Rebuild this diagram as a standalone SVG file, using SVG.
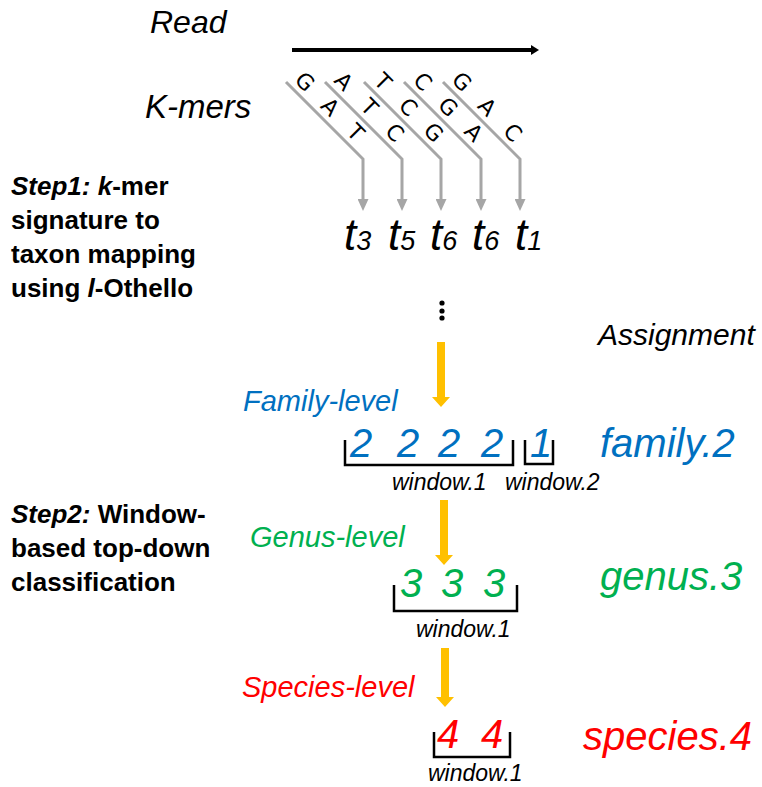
<svg xmlns="http://www.w3.org/2000/svg" width="762" height="787" viewBox="0 0 762 787">
  <defs>
    <style>
      text { font-family: "Liberation Sans", Arial, sans-serif; }
      .it { font-style: italic; }
      .step { font-size: 26px; font-weight: bold; fill: #000; }
      .base { font-family: "DejaVu Sans", "Liberation Sans", sans-serif; font-size: 22px; fill: #000; text-anchor: middle; }
      .kline { fill: none; stroke: #A6A6A6; stroke-width: 3; }
      .tax { font-style: italic; font-size: 44px; fill: #000; }
      .sub { font-size: 27px; }
      .lvl { font-style: italic; font-size: 29px; }
      .num { font-style: italic; font-size: 40px; }
      .res { font-style: italic; font-size: 40px; }
      .win { font-style: italic; font-size: 23px; fill: #000; }
      .brk { fill: none; stroke: #000; stroke-width: 2.5; }
      .flow { fill: #FFC000; }
      .blue { fill: #0070C0; }
      .green { fill: #00B050; }
      .red { fill: #FF0000; }
    </style>
    <marker id="grayHead" markerWidth="12" markerHeight="11" refX="1" refY="5.5" orient="auto" markerUnits="userSpaceOnUse" viewBox="0 0 12 11">
      <path d="M0,0 L12,5.5 L0,11 Z" fill="#A6A6A6"/>
    </marker>
  </defs>

  <!-- Labels on the left -->
  <g id="label-read">
    <text x="150" y="33" class="it" font-size="32">Read</text>
  </g>
  <g id="label-kmers">
    <text x="145" y="118" class="it" font-size="33">K-mers</text>
  </g>
  <g id="step1">
    <text class="step" x="11" y="195"><tspan font-style="italic">Step1:</tspan> <tspan font-style="italic">k</tspan>-mer</text>
    <text class="step" x="11" y="229">signature to</text>
    <text class="step" x="11" y="263">taxon mapping</text>
    <text class="step" x="11" y="297">using <tspan font-style="italic">l</tspan>-Othello</text>
  </g>
  <g id="step2">
    <text class="step" x="11" y="523"><tspan font-style="italic">Step2:</tspan> Window-</text>
    <text class="step" x="11" y="557">based top-down</text>
    <text class="step" x="11" y="591">classification</text>
  </g>

  <!-- Read -->
  <g id="read">
    <line x1="292" y1="50" x2="532" y2="50" stroke="#000" stroke-width="4"/>
    <path d="M531,45 L539,50 L531,55 Z" fill="#000"/>
  </g>

  <!-- k-mers: one line per k-mer, bases written along it -->
  <g id="kmer-1">
    <g transform="translate(286,82) rotate(45)">
      <text class="base" x="13" y="-6">G</text>
      <text class="base" x="49" y="-6">A</text>
      <text class="base" x="85" y="-6">T</text>
    </g>
  </g>
  <g id="kmer-2">
    <g transform="translate(325,82) rotate(45)">
      <text class="base" x="13" y="-6">A</text>
      <text class="base" x="49" y="-6">T</text>
      <text class="base" x="85" y="-6">C</text>
    </g>
  </g>
  <g id="kmer-3">
    <g transform="translate(364,82) rotate(45)">
      <text class="base" x="13" y="-6">T</text>
      <text class="base" x="49" y="-6">C</text>
      <text class="base" x="85" y="-6">G</text>
    </g>
  </g>
  <g id="kmer-4">
    <g transform="translate(404,82) rotate(45)">
      <text class="base" x="13" y="-6">C</text>
      <text class="base" x="49" y="-6">G</text>
      <text class="base" x="85" y="-6">A</text>
    </g>
  </g>
  <g id="kmer-5">
    <g transform="translate(443,82) rotate(45)">
      <text class="base" x="13" y="-6">G</text>
      <text class="base" x="49" y="-6">A</text>
      <text class="base" x="85" y="-6">C</text>
    </g>
  </g>

  <!-- Taxon ids -->
  <g id="taxa">
    <text class="tax" x="344" y="250">t<tspan class="sub">3</tspan></text>
    <text class="tax" x="388" y="250">t<tspan class="sub">5</tspan></text>
    <text class="tax" x="430" y="250">t<tspan class="sub">6</tspan></text>
    <text class="tax" x="472" y="250">t<tspan class="sub">6</tspan></text>
    <text class="tax" x="515" y="250">t<tspan class="sub">1</tspan></text>
  </g>

  <g id="ellipsis">
    <circle cx="442" cy="303" r="2.6" fill="#000"/>
    <circle cx="442" cy="311" r="2.6" fill="#000"/>
    <circle cx="442" cy="318" r="2.6" fill="#000"/>
  </g>

  <g id="label-assignment">
    <text x="598" y="345" class="it" font-size="30">Assignment</text>
  </g>

  <!-- Family level -->
  <g id="family-level">
    <text class="lvl blue" x="243" y="411">Family-level</text>
    <text class="num blue" x="350" y="457">2</text>
    <text class="num blue" x="397" y="457">2</text>
    <text class="num blue" x="438" y="457">2</text>
    <text class="num blue" x="481" y="457">2</text>
    <text class="num blue" x="530" y="457">1</text>
    <path class="brk" d="M345,440 V465 H513 V440"/>
    <path class="brk" d="M525,440 V464 H553 V440"/>
    <text class="win" x="392" y="490">window.1</text>
    <text class="win" x="505" y="490">window.2</text>
    <text class="res blue" x="600" y="457">family.2</text>
  </g>

  <!-- Genus level -->
  <g id="genus-level">
    <text class="lvl green" x="250" y="547">Genus-level</text>
    <text class="num green" x="400" y="597">3</text>
    <text class="num green" x="441" y="597">3</text>
    <text class="num green" x="483" y="597">3</text>
    <path class="brk" d="M394,585 V611 H517 V585"/>
    <text class="win" x="416" y="637">window.1</text>
    <text class="res green" x="600" y="590">genus.3</text>
  </g>

  <!-- Species level -->
  <g id="species-level">
    <text class="lvl red" x="242" y="697">Species-level</text>
    <text class="num red" x="437" y="748">4</text>
    <text class="num red" x="481" y="748">4</text>
    <path class="brk" d="M434,732 V757 H510 V732"/>
    <text class="win" x="428" y="781">window.1</text>
    <text class="res red" x="583" y="750">species.4</text>
  </g>

  <!-- Connectors -->
  <g id="connectors">
    <path class="kline" d="M286,82 L363,159 V200" marker-end="url(#grayHead)"/>
    <path class="kline" d="M325,82 L402,159 V200" marker-end="url(#grayHead)"/>
    <path class="kline" d="M364,82 L441,159 V200" marker-end="url(#grayHead)"/>
    <path class="kline" d="M404,82 L481,159 V200" marker-end="url(#grayHead)"/>
    <path class="kline" d="M443,82 L520,159 V200" marker-end="url(#grayHead)"/>
    <polygon class="flow" points="437,342 445,342 445,397 450,397 441,407 432,397 437,397"/>
    <polygon class="flow" points="440,500 448,500 448,555 453,555 444,565 435,555 440,555"/>
    <polygon class="flow" points="441,648 449,648 449,697 454,697 445,707 436,697 441,697"/>
  </g>
</svg>
